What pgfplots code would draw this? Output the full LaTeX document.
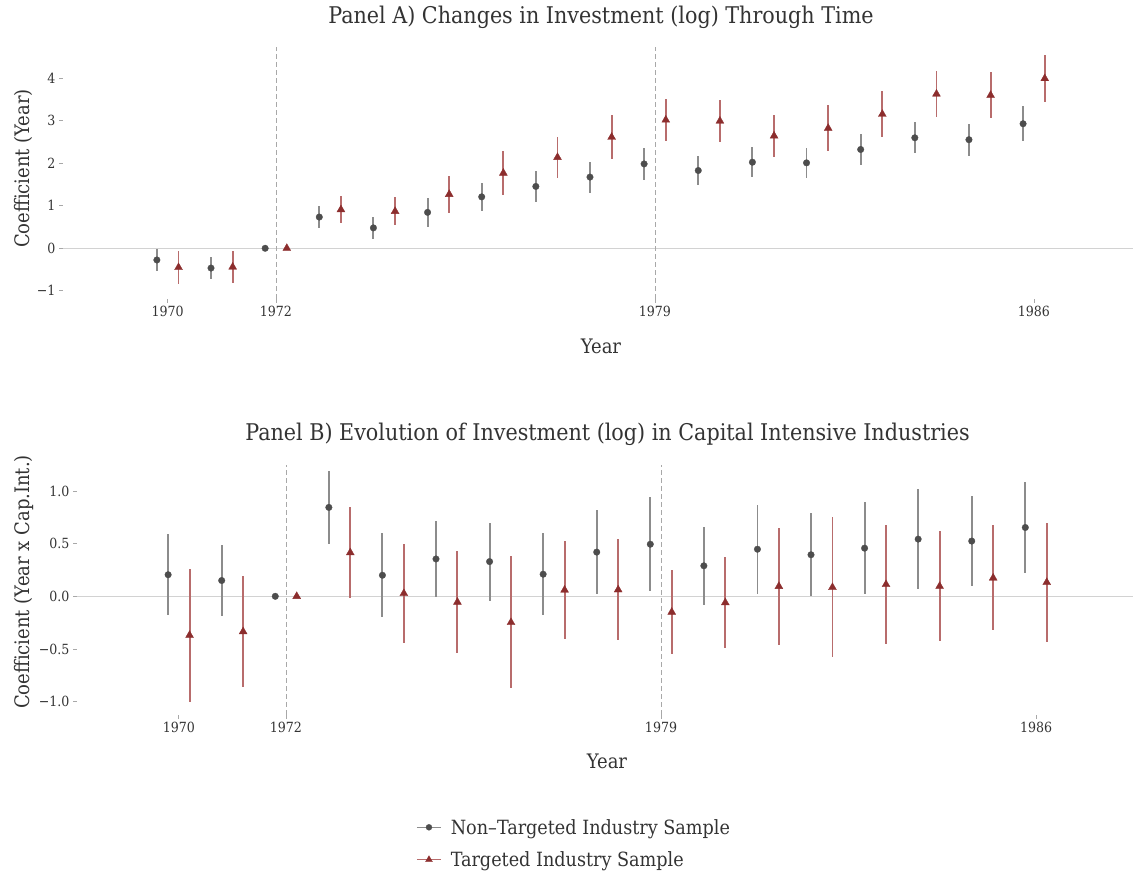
\documentclass[border=0pt]{standalone}
\usepackage{fontspec}
\setmainfont{DejaVu Serif Condensed}
\usepackage{pgfplots}
\usepackage{pgfplotstable}
\pgfplotsset{compat=1.18}
\definecolor{gpt}{HTML}{4D4D4D}
\definecolor{gbar}{HTML}{8C8C8C}
\definecolor{rpt}{HTML}{8C2D2D}
\definecolor{rbar}{HTML}{B86C6C}
\definecolor{txt}{HTML}{333333}
\definecolor{zline}{HTML}{D2D2D2}
\definecolor{vline}{HTML}{A8A8A8}

\pgfplotstableread{
x y e
1969.8 -0.275 0.255
1970.8 -0.465 0.265
1971.8 0 0
1972.8 0.735 0.265
1973.8 0.48 0.25
1974.8 0.845 0.335
1975.8 1.21 0.33
1976.8 1.455 0.365
1977.8 1.675 0.365
1978.8 1.985 0.375
1979.8 1.83 0.35
1980.8 2.025 0.355
1981.8 2.01 0.36
1982.8 2.325 0.375
1983.8 2.60 0.36
1984.8 2.555 0.375
1985.8 2.93 0.41
}\Agray
\pgfplotstableread{
x y e
1970.2 -0.45 0.39
1971.2 -0.44 0.37
1972.2 0 0
1973.2 0.91 0.31
1974.2 0.87 0.33
1975.2 1.27 0.43
1976.2 1.77 0.51
1977.2 2.14 0.49
1978.2 2.615 0.525
1979.2 3.02 0.50
1980.2 2.995 0.505
1981.2 2.645 0.495
1982.2 2.825 0.535
1983.2 3.155 0.535
1984.2 3.63 0.53
1985.2 3.60 0.54
1986.2 3.995 0.555
}\Ared
\pgfplotstableread{
x y e
1969.8 0.205 0.385
1970.8 0.15 0.34
1971.8 0 0
1972.8 0.845 0.345
1973.8 0.20 0.40
1974.8 0.355 0.365
1975.8 0.33 0.37
1976.8 0.21 0.39
1977.8 0.42 0.40
1978.8 0.495 0.445
1979.8 0.29 0.37
1980.8 0.4475 0.4225
1981.8 0.395 0.395
1982.8 0.4575 0.4375
1983.8 0.5435 0.4765
1984.8 0.525 0.425
1985.8 0.654 0.432
}\Bgray
\pgfplotstableread{
x y e
1970.2 -0.37 0.63
1971.2 -0.335 0.525
1972.2 0 0
1973.2 0.415 0.435
1974.2 0.0275 0.4675
1975.2 -0.055 0.485
1976.2 -0.248 0.628
1977.2 0.06 0.47
1978.2 0.0625 0.4775
1979.2 -0.15 0.40
1980.2 -0.06 0.43
1981.2 0.095 0.555
1982.2 0.085 0.665
1983.2 0.113 0.563
1984.2 0.0955 0.5205
1985.2 0.1745 0.4985
1986.2 0.1325 0.5625
}\Bred

\pgfplotsset{
  base/.style={
    scale only axis, clip=false,
    axis x line*=bottom, axis y line*=left,
    axis line style={draw=none},
    tick align=outside, major tick length=4pt,
    tick style={color=vline, line width=0.7pt},
    xtick={1970,1972,1979,1986},
    xticklabels={1970,1972,1979,1986},
    ticklabel style={font=\fontsize{14}{16}\selectfont, text=txt},
    /pgf/number format/assume math mode=true,
  },
  errg/.style={only marks, mark=*, mark size=3.3pt,
    mark options={fill=gpt, draw=gpt, line width=0.3pt},
    error bars/y dir=both, error bars/y explicit, error bars/error mark=none,
    error bars/error bar style={gbar, line width=1.9pt}},
  errr/.style={only marks, mark=triangle*, mark size=4.6pt,
    mark options={fill=rpt, draw=rpt, line width=0.3pt},
    error bars/y dir=both, error bars/y explicit, error bars/error mark=none,
    error bars/error bar style={rbar, line width=1.9pt}},
}

\begin{document}
\begin{tikzpicture}
\path[use as bounding box] (0,0) rectangle (1133pt,873pt);

% Panel A
\begin{axis}[base,
  at={(63pt,574pt)}, anchor=south west,
  width=1070pt, height=252pt,
  xmin=1968.066, xmax=1987.83,
  ymin=-1.193, ymax=4.736,
  ytick={-1,0,1,2,3,4},
  yticklabels={−1,0,1,2,3,4},
]
\draw[zline, line width=0.9pt] ({rel axis cs:0,0} |- {axis cs:1970,0}) -- ({rel axis cs:1,0} |- {axis cs:1970,0});
\draw[vline, line width=0.8pt, dash pattern=on 4.5pt off 3.5pt] ({axis cs:1972,0} |- {rel axis cs:0,0}) -- ({axis cs:1972,0} |- {rel axis cs:0,1});
\draw[vline, line width=0.8pt, dash pattern=on 4.5pt off 3.5pt] ({axis cs:1979,0} |- {rel axis cs:0,0}) -- ({axis cs:1979,0} |- {rel axis cs:0,1});
\addplot[errg] table[x=x, y=y, y error=e] {\Agray};
\addplot[errr] table[x=x, y=y, y error=e] {\Ared};
\end{axis}

% Panel B
\begin{axis}[base,
  at={(77pt,158pt)}, anchor=south west,
  width=1056pt, height=250pt,
  xmin=1968.099, xmax=1987.81,
  ymin=-1.128, ymax=1.248,
  ytick={-1,-0.5,0,0.5,1},
  yticklabels={−1.0,−0.5,0.0,0.5,1.0},
  legend image code/.code={\draw[mark repeat=2,mark phase=2,#1] plot coordinates {(0pt,0pt)(12pt,0pt)(24pt,0pt)};},
  legend style={at={(axis description cs:0.3210,-0.514)}, anchor=west,
    draw=none, fill=none, inner sep=0pt,
    font=\fontsize{19.6}{22}\selectfont, text=txt,
    row sep=12pt,
    /tikz/every odd column/.append style={column sep=7pt}},
  legend cell align=left,
]
\draw[zline, line width=0.9pt] ({rel axis cs:0,0} |- {axis cs:1970,0}) -- ({rel axis cs:1,0} |- {axis cs:1970,0});
\draw[vline, line width=0.8pt, dash pattern=on 4.5pt off 3.5pt] ({axis cs:1972,0} |- {rel axis cs:0,0}) -- ({axis cs:1972,0} |- {rel axis cs:0,1});
\draw[vline, line width=0.8pt, dash pattern=on 4.5pt off 3.5pt] ({axis cs:1979,0} |- {rel axis cs:0,0}) -- ({axis cs:1979,0} |- {rel axis cs:0,1});
\addplot[errg, forget plot] table[x=x, y=y, y error=e] {\Bgray};
\addplot[errr, forget plot] table[x=x, y=y, y error=e] {\Bred};
\addlegendimage{gbar, line width=1.6pt, mark=*, mark size=3pt, mark options={fill=gpt, draw=gpt, line width=0.3pt}}
\addlegendentry{Non–Targeted Industry Sample}
\addlegendimage{rbar, line width=1.6pt, mark=triangle*, mark size=4pt, mark options={fill=rpt, draw=rpt, line width=0.3pt}}
\addlegendentry{Targeted Industry Sample}
\end{axis}

% Titles and axis labels
\node[anchor=base, text=txt, font=\fontsize{23}{26}\selectfont] at (601pt,849pt) {Panel A) Changes in Investment (log) Through Time};
\node[anchor=base, text=txt, font=\fontsize{23}{26}\selectfont] at (607.5pt,432.3pt) {Panel B) Evolution of Investment (log) in Capital Intensive Industries};
\node[anchor=base, text=txt, font=\fontsize{20}{24}\selectfont] at (601pt,519.7pt) {Year};
\node[anchor=base, text=txt, font=\fontsize{20}{24}\selectfont] at (607pt,104pt) {Year};
\node[anchor=base, rotate=90, text=txt, font=\fontsize{20}{24}\selectfont] at (29.3pt,704.5pt) {Coefficient (Year)};
\node[anchor=base, rotate=90, text=txt, font=\fontsize{20}{24}\selectfont] at (29.3pt,291pt) {Coefficient (Year x Cap.Int.)};
\end{tikzpicture}
\end{document}
